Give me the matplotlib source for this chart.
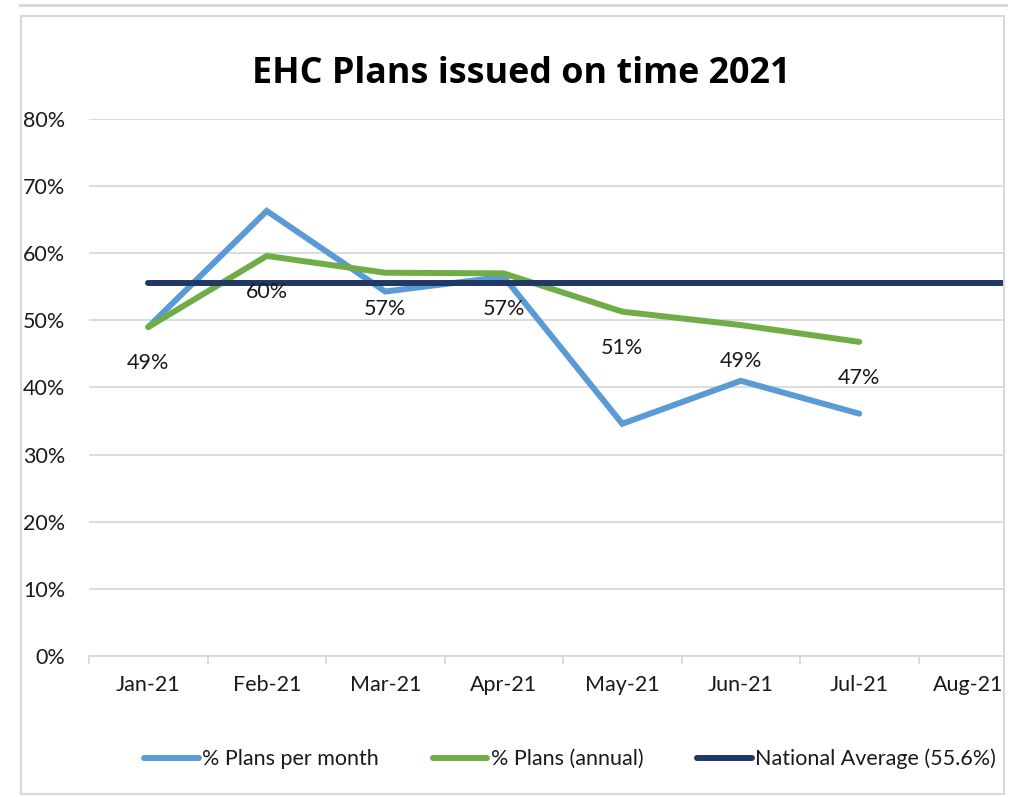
import numpy as np
import matplotlib
matplotlib.use("Agg")
import matplotlib.pyplot as plt
from matplotlib.lines import Line2D
from matplotlib.patches import Rectangle
from matplotlib.transforms import ScaledTranslation

plt.rcParams['font.family'] = ['Lato', 'DejaVu Sans']

# Data
months = ['Jan-21', 'Feb-21', 'Mar-21', 'Apr-21', 'May-21', 'Jun-21', 'Jul-21', 'Aug-21', 'Sep-21']
plans_per_month = [0.490, 0.663, 0.543, 0.565, 0.346, 0.410, 0.361]
plans_annual = [0.490, 0.596, 0.571, 0.570, 0.513, 0.493, 0.468]
annual_labels = ['49%', '60%', '57%', '57%', '51%', '49%', '47%']
national_avg = [0.556] * 9
y_ticks = [0, 0.1, 0.2, 0.3, 0.4, 0.5, 0.6, 0.7, 0.8]
n_visible = 8  # months shown on the axis (Jan-Aug)

# Colours
blue = '#5B9BD5'
green = '#70AD47'
navy = '#203864'
grid_grey = '#D9D9D9'
text_col = '#1a1a1a'
fs = 15.5

W, H = 1021, 797
fig = plt.figure(figsize=(W / 100, H / 100), dpi=100)
ax = fig.add_axes([89 / W, 1 - 656 / H, (1004 - 89) / W, (656 - 119) / H])

x_all = np.arange(len(months))
ax.plot(x_all[:len(plans_per_month)], plans_per_month, color=blue, lw=4.3,
        solid_capstyle='round', solid_joinstyle='miter', label='% Plans per month', zorder=3)
ax.plot(x_all[:len(plans_annual)], plans_annual, color=green, lw=4.3,
        solid_capstyle='round', solid_joinstyle='miter', label='% Plans (annual)', zorder=4)
ax.plot(x_all, national_avg, color=navy, lw=4.3,
        solid_capstyle='round', label='National Average (55.6%)', zorder=5)

# Data labels for annual series
for xi, yi, lab in zip(x_all, plans_annual, annual_labels):
    ax.annotate(lab, (xi, yi), xytext=(0, -42), textcoords='offset pixels',
                ha='center', va='baseline', fontsize=fs, color=text_col, zorder=6)

# Y axis
ax.set_yticks(y_ticks)
ax.set_yticklabels([f'{int(round(v * 100))}%' for v in y_ticks])
ax.yaxis.grid(True, color=grid_grey, lw=1.3)
ax.set_axisbelow(True)
ax.tick_params(axis='y', length=0, pad=17, labelsize=fs, labelcolor=text_col)

# X axis: boundary ticks (major) and centred labels (minor)
ax.set_xticks(np.arange(-0.5, n_visible - 1, 1.0))
ax.set_xticklabels([])
ax.set_xticks(x_all[:n_visible], minor=True)
ax.set_xticklabels(months[:n_visible], minor=True)
ax.tick_params(axis='x', which='major', length=6, width=1.3, color=grid_grey)
ax.tick_params(axis='x', which='minor', length=0, pad=14, labelsize=fs, labelcolor=text_col)

ax.set_xlim(-0.5, -0.5 + (1004 - 89) / 118.5)
ax.set_ylim(0, 0.8)

# last label nudged left so it stays inside the chart border
last = ax.get_xticklabels(minor=True)[-1]
last.set_transform(last.get_transform() + ScaledTranslation(-0.10, 0, fig.dpi_scale_trans))

for side in ['top', 'right', 'left']:
    ax.spines[side].set_visible(False)
ax.spines['bottom'].set_color(grid_grey)
ax.spines['bottom'].set_linewidth(1.3)

# Title
fig.text(521 / W, 1 - 83 / H, 'EHC Plans issued on time 2021', ha='center', va='baseline',
         fontsize=25.8, fontweight='bold', color='black', family=['Open Sans', 'DejaVu Sans'])

# Legend
fig.legend(loc='center', bbox_to_anchor=(570 / W, 1 - 759 / H), ncol=3, frameon=False,
           fontsize=fs, handlelength=2.55, handletextpad=0.15, columnspacing=2.5,
           labelcolor=text_col)

# Chart border
fig.add_artist(Rectangle((21 / W, 1 - 794 / H), (1004 - 21) / W, (794 - 16) / H,
                         transform=fig.transFigure, fill=False, edgecolor=grid_grey, lw=1.5))
fig.add_artist(Line2D([20 / W, 1006 / W], [1 - 5 / H, 1 - 5 / H],
                      transform=fig.transFigure, color=grid_grey, lw=2.2))

fig.savefig('out.png', dpi=100)
